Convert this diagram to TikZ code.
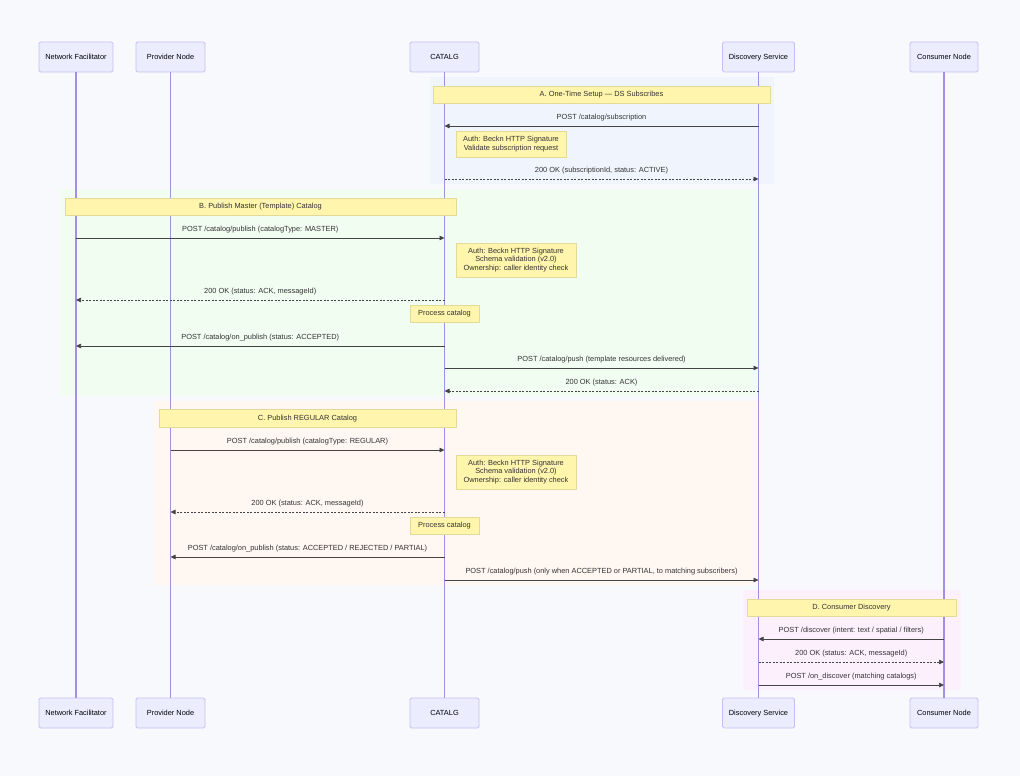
\documentclass[tikz,border=0pt]{standalone}
\usepackage{fontspec}
\setmainfont{Liberation Sans}
\usetikzlibrary{arrows.meta}
\definecolor{bgc}{RGB}{248,249,253}
\definecolor{actfill}{RGB}{236,236,255}
\definecolor{actdraw}{RGB}{200,188,242}
\definecolor{lifec}{RGB}{165,142,230}
\definecolor{notefill}{RGB}{255,245,173}
\definecolor{notedraw}{RGB}{226,218,150}
\definecolor{msgc}{RGB}{68,68,68}
\definecolor{txtc}{RGB}{51,51,51}
\definecolor{regA}{RGB}{240,245,253}
\definecolor{regB}{RGB}{242,253,242}
\definecolor{regC}{RGB}{254,247,242}
\definecolor{regD}{RGB}{253,240,253}
\begin{document}
\begin{tikzpicture}[x=1pt,y=-1pt,font=\fontsize{7.4}{8.6}\selectfont,line join=round,>={Triangle[length=5pt,width=4.5pt]},
 actor/.style={draw=actdraw,fill=actfill,line width=0.8pt,rounded corners=1.5pt,minimum height=30pt,inner sep=0pt,text height=5.3pt,text depth=1.2pt,text=black},
 note/.style={draw=notedraw,fill=notefill,line width=0.8pt,inner sep=0pt,align=center,text=txtc},
 titlenote/.style={note,minimum height=17pt,text height=5.3pt,text depth=1.2pt},
 life/.style={draw=lifec,line width=1.2pt},
 msg/.style={->,draw=msgc,line width=0.7pt},
 reply/.style={msg,dash pattern=on 2pt off 1.5pt},
 lbl/.style={midway,above=5pt,inner sep=0pt,text height=5.5pt,text depth=1.5pt,text=txtc}]
 \fill[bgc] (0,0) rectangle (1020,776);
 \fill[regA] (430,77) rectangle (774,184);
 \fill[regB] (60,189) rectangle (761,396);
 \fill[regC] (154,401) rectangle (761,585);
 \fill[regD] (743,590) rectangle (961,690);
 \node[actor,minimum width=74pt] (fac) at (76,57) {Network Facilitator};
 \node[actor,minimum width=69pt] (prov) at (170.5,57) {Provider Node};
 \node[actor,minimum width=69pt] (cat) at (444.5,57) {CATALG};
 \node[actor,minimum width=72pt] (ds) at (758.5,57) {Discovery Service};
 \node[actor,minimum width=68pt] (con) at (944,57) {Consumer Node};
 \node[actor,minimum width=74pt] (facb) at (76,713) {Network Facilitator};
 \node[actor,minimum width=69pt] (provb) at (170.5,713) {Provider Node};
 \node[actor,minimum width=69pt] (catb) at (444.5,713) {CATALG};
 \node[actor,minimum width=72pt] (dsb) at (758.5,713) {Discovery Service};
 \node[actor,minimum width=68pt] (conb) at (944,713) {Consumer Node};
 \foreach \a in {fac,prov,cat,ds,con}
  \draw[life] (\a) -- (\a b);
 \node[titlenote,minimum width=337pt] (titA) at (601.5,94.5) {A. One-Time Setup — DS Subscribes};
 \node[note,minimum width=110pt,minimum height=26pt] (authA) at (511,144) {Auth: Beckn HTTP Signature\\Validate subscription request};
 \node[titlenote,minimum width=391pt] (titB) at (260.5,206.5) {B. Publish Master (Template) Catalog};
 \node[note,minimum width=120pt,minimum height=34pt] (authB) at (516,260) {Auth: Beckn HTTP Signature\\Schema validation (v2.0)\\Ownership: caller identity check};
 \node[titlenote,minimum width=69pt] (procB) at (444.5,313.5) {Process catalog};
 \node[titlenote,minimum width=297pt,minimum height=18pt] (titC) at (307.5,418) {C. Publish REGULAR Catalog};
 \node[note,minimum width=120pt,minimum height=34pt] (authC) at (516,472) {Auth: Beckn HTTP Signature\\Schema validation (v2.0)\\Ownership: caller identity check};
 \node[titlenote,minimum width=69pt] (procC) at (444.5,525.5) {Process catalog};
 \node[titlenote,minimum width=209pt] (titD) at (851.5,607.5) {D. Consumer Discovery};
 \draw[msg] (ds |- 0,126) -- (cat |- 0,126) node[lbl]{POST /catalog/subscription};
 \draw[reply] (cat |- 0,179) -- (ds |- 0,179) node[lbl]{200 OK (subscriptionId, status: ACTIVE)};
 \draw[msg] (fac |- 0,238) -- (cat |- 0,238) node[lbl]{POST /catalog/publish (catalogType: MASTER)};
 \draw[reply] (cat |- 0,300) -- (fac |- 0,300) node[lbl]{200 OK (status: ACK, messageId)};
 \draw[msg] (cat |- 0,346) -- (fac |- 0,346) node[lbl]{POST /catalog/on\_publish (status: ACCEPTED)};
 \draw[msg] (cat |- 0,368) -- (ds |- 0,368) node[lbl]{POST /catalog/push (template resources delivered)};
 \draw[reply] (ds |- 0,391) -- (cat |- 0,391) node[lbl]{200 OK (status: ACK)};
 \draw[msg] (prov |- 0,450) -- (cat |- 0,450) node[lbl]{POST /catalog/publish (catalogType: REGULAR)};
 \draw[reply] (cat |- 0,512) -- (prov |- 0,512) node[lbl]{200 OK (status: ACK, messageId)};
 \draw[msg] (cat |- 0,557) -- (prov |- 0,557) node[lbl]{POST /catalog/on\_publish (status: ACCEPTED / REJECTED / PARTIAL)};
 \draw[msg] (cat |- 0,580) -- (ds |- 0,580) node[lbl]{POST /catalog/push (only when ACCEPTED or PARTIAL, to matching subscribers)};
 \draw[msg] (con |- 0,639) -- (ds |- 0,639) node[lbl]{POST /discover (intent: text / spatial / filters)};
 \draw[reply] (ds |- 0,662) -- (con |- 0,662) node[lbl]{200 OK (status: ACK, messageId)};
 \draw[msg] (ds |- 0,685) -- (con |- 0,685) node[lbl]{POST /on\_discover (matching catalogs)};
\end{tikzpicture}
\end{document}
